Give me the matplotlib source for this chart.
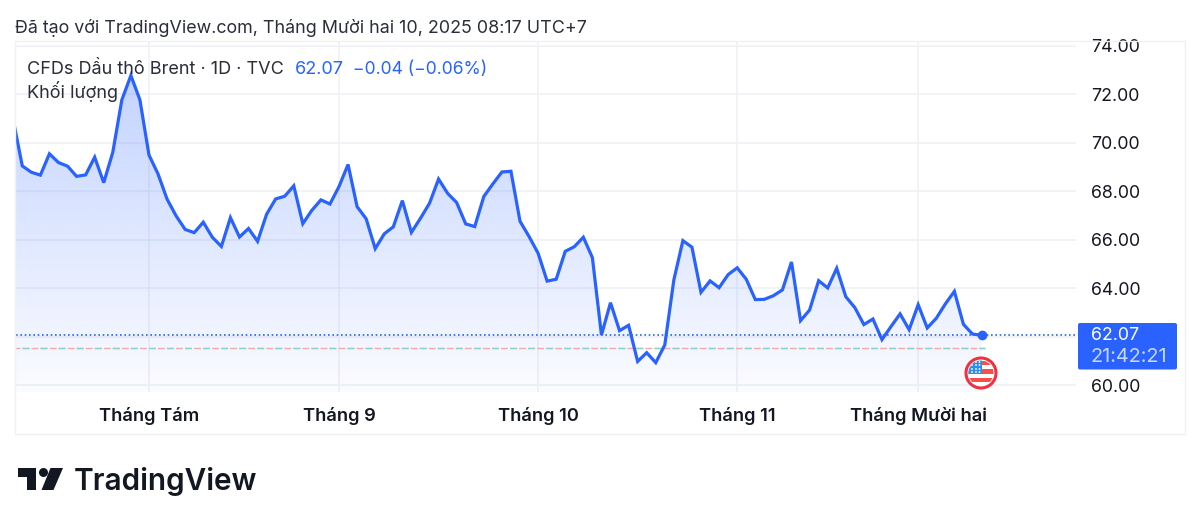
import numpy as np
import matplotlib
matplotlib.use('Agg')
import matplotlib.pyplot as plt
from matplotlib.patches import Circle, Polygon, Rectangle, FancyBboxPatch, PathPatch
from matplotlib.path import Path

plt.rcParams['font.family'] = ['Inter', 'DejaVu Sans']

gia = [70.95, 69.05, 68.79, 68.67, 69.55, 69.19, 69.04, 68.62, 68.68, 69.41,
       68.36, 69.61, 71.77, 72.78, 71.77, 69.50, 68.72, 67.68, 66.99, 66.43,
       66.30, 66.73, 66.11, 65.73, 66.92, 66.12, 66.47, 65.94, 67.06, 67.69,
       67.80, 68.23, 66.67, 67.22, 67.65, 67.48, 68.20, 69.11, 67.37, 66.87,
       65.64, 66.25, 66.54, 67.62, 66.31, 66.89, 67.51, 68.51, 67.92, 67.54,
       66.66, 66.55, 67.79, 68.31, 68.80, 68.83, 66.77, 66.14, 65.45, 64.30,
       64.38, 65.53, 65.72, 66.11, 65.27, 62.08, 63.41, 62.26, 62.48, 60.99,
       61.35, 60.94, 61.67, 64.35, 65.97, 65.70, 63.84, 64.31, 64.03, 64.57,
       64.85, 64.38, 63.54, 63.55, 63.70, 63.94, 65.09, 62.67, 63.11, 64.32,
       64.02, 64.83, 63.66, 63.21, 62.51, 62.74, 61.89, 62.43, 62.95, 62.30,
       63.33, 62.37, 62.77, 63.36, 63.88, 62.52, 62.12, 62.07]
vi_tri_thang = [15, 36, 58, 80, 100]
ten_thang = ['Tháng Tám', 'Tháng 9', 'Tháng 10', 'Tháng 11', 'Tháng Mười hai']
muc_gia = [60, 62, 64, 66, 68, 70, 72, 74]
nhan_gia = ['60.00', '', '64.00', '66.00', '68.00', '70.00', '72.00', '74.00']
gia_cuoi = 62.07
gia_co_so = 61.56

XANH = '#2962FF'
W, H = 1200, 525

fig = plt.figure(figsize=(W / 100, H / 100), dpi=100, facecolor='white')
ax = fig.add_axes([15.5 / W, 1 - 392 / H, (1076 - 15.5) / W, (392 - 41) / H])
x = np.arange(len(gia))
xlim = (0.25, 117.44)
ylim = (59.73, 74.2)

# Luoi
ax.set_axisbelow(True)
ax.grid(True, color='#f0f1f5', linewidth=1.2)
for s in ax.spines.values():
    s.set_visible(False)

# Vung to gradient duoi duong gia
mau = np.zeros((256, 1, 4))
mau[..., 0] = 0x29 / 255
mau[..., 1] = 0x62 / 255
mau[..., 2] = 1.0
mau[:, 0, 3] = np.linspace(0.28, 0.02, 256)
anh = ax.imshow(mau, extent=(x[0], x[-1], ylim[0], max(gia)), aspect='auto', origin='upper', zorder=1)
dinh = list(zip(x, gia)) + [(x[-1], ylim[0]), (x[0], ylim[0])]
vung = PathPatch(Path(dinh), transform=ax.transData, facecolor='none', edgecolor='none')
ax.add_patch(vung)
anh.set_clip_path(vung)

ax.axhline(gia_cuoi, color=XANH, linewidth=1.2, linestyle=(0, (1, 1.6)), zorder=2)
ax.plot([x[0], 107.4], [gia_co_so, gia_co_so], color='#f7a9a7', linewidth=1, linestyle=(0, (5, 1.5)), zorder=2)
ax.plot([x[0], 107.4], [gia_co_so, gia_co_so], color='#8fd3cd', linewidth=1, linestyle=(6.5, (5, 8)), zorder=2)
ax.plot(x, gia, color=XANH, linewidth=2.3, solid_joinstyle='miter', zorder=3)
ax.plot(x[-1], gia[-1], 'o', color=XANH, markersize=6, zorder=4)

ax.set_xlim(xlim)
ax.set_ylim(ylim)
ax.set_xticks(vi_tri_thang)
ax.set_xticklabels(ten_thang, fontsize=13.2, fontweight='semibold', color='#131722')
ax.set_yticks(muc_gia)
ax.set_yticklabels(nhan_gia, fontsize=12.8, color='#131722')
ax.yaxis.tick_right()
ax.tick_params(axis='x', length=0, pad=10.5)
ax.tick_params(axis='y', length=0, pad=10.8)

# Lop phu theo toa do pixel: khung, chu, co, logo
ov = fig.add_axes([0, 0, 1, 1], facecolor='none')
ov.set_xlim(0, W)
ov.set_ylim(H, 0)
ov.axis('off')

ov.add_patch(Rectangle((15, 41), 1170, 393, fill=False, edgecolor='#f0f1f5', linewidth=1))
ov.text(15, 33, 'Đã tạo với TradingView.com, Tháng Mười hai 10, 2025 08:17 UTC+7',
        fontsize=12.87, color='#2a2e39', va='baseline')
ov.text(27, 73.5, 'CFDs Dầu thô Brent · 1D · TVC', fontsize=13, color='#2a2e39', va='baseline')
ov.text(295, 73.5, '62.07', fontsize=13, color=XANH, va='baseline')
ov.text(353, 73.5, '−0.04 (−0.06%)', fontsize=12.6, color=XANH, va='baseline')
ov.text(27, 98.5, 'Khối lượng', fontsize=13, color='#2a2e39', va='baseline')

# Nhan gia hien tai
ov.add_patch(FancyBboxPatch((1078, 323), 99, 46.5, boxstyle='round,pad=0,rounding_size=2',
                            facecolor=XANH, edgecolor='none'))
ov.text(1091, 336, '62.07', fontsize=12.8, color='white', va='center')
ov.text(1091, 357, '21:42:21', fontsize=14.3, color='#c8d7ff', va='center')

# Co My
cx, cy = 981, 373
tron = Circle((cx, cy), 12.5, transform=ov.transData)
ov.add_patch(Circle((cx, cy), 15, facecolor='white', edgecolor='#f0313f', linewidth=2.2))
for y0 in [cy - 12.5, cy - 4, cy + 4.5]:
    p = ov.add_patch(Rectangle((cx - 13, y0), 26, 4.5, facecolor='#f6504c', edgecolor='none'))
    p.set_clip_path(tron)
p = ov.add_patch(Rectangle((cx - 13, cy - 13), 14, 13.5, facecolor='#2f8fe8', edgecolor='none'))
p.set_clip_path(tron)
for dx, dy in [(-9, -8), (-5, -8), (-1.5, -8), (-9, -4), (-5, -4), (-1.5, -4), (-5, -11), (-1.5, -11), (-9, -1), (-5, -1), (-1.5, -1)]:
    ov.add_patch(Circle((cx + dx, cy + dy), 0.9, facecolor='white', edgecolor='none'))

# Logo TradingView
ov.add_patch(Polygon([(18, 468), (36, 468), (36, 490), (27, 490), (27, 476.5), (18, 476.5)], facecolor='#131722', edgecolor='none'))
ov.add_patch(Circle((43.5, 472.5), 4.5, facecolor='#131722', edgecolor='none'))
ov.add_patch(Polygon([(50.5, 468), (63, 468), (53.5, 490), (41.5, 490)], facecolor='#131722', edgecolor='none'))
ov.text(74, 490.5, 'TradingView', fontsize=21.4, fontweight='semibold', color='#131722', va='baseline')

fig.savefig('out.png', dpi=100)
